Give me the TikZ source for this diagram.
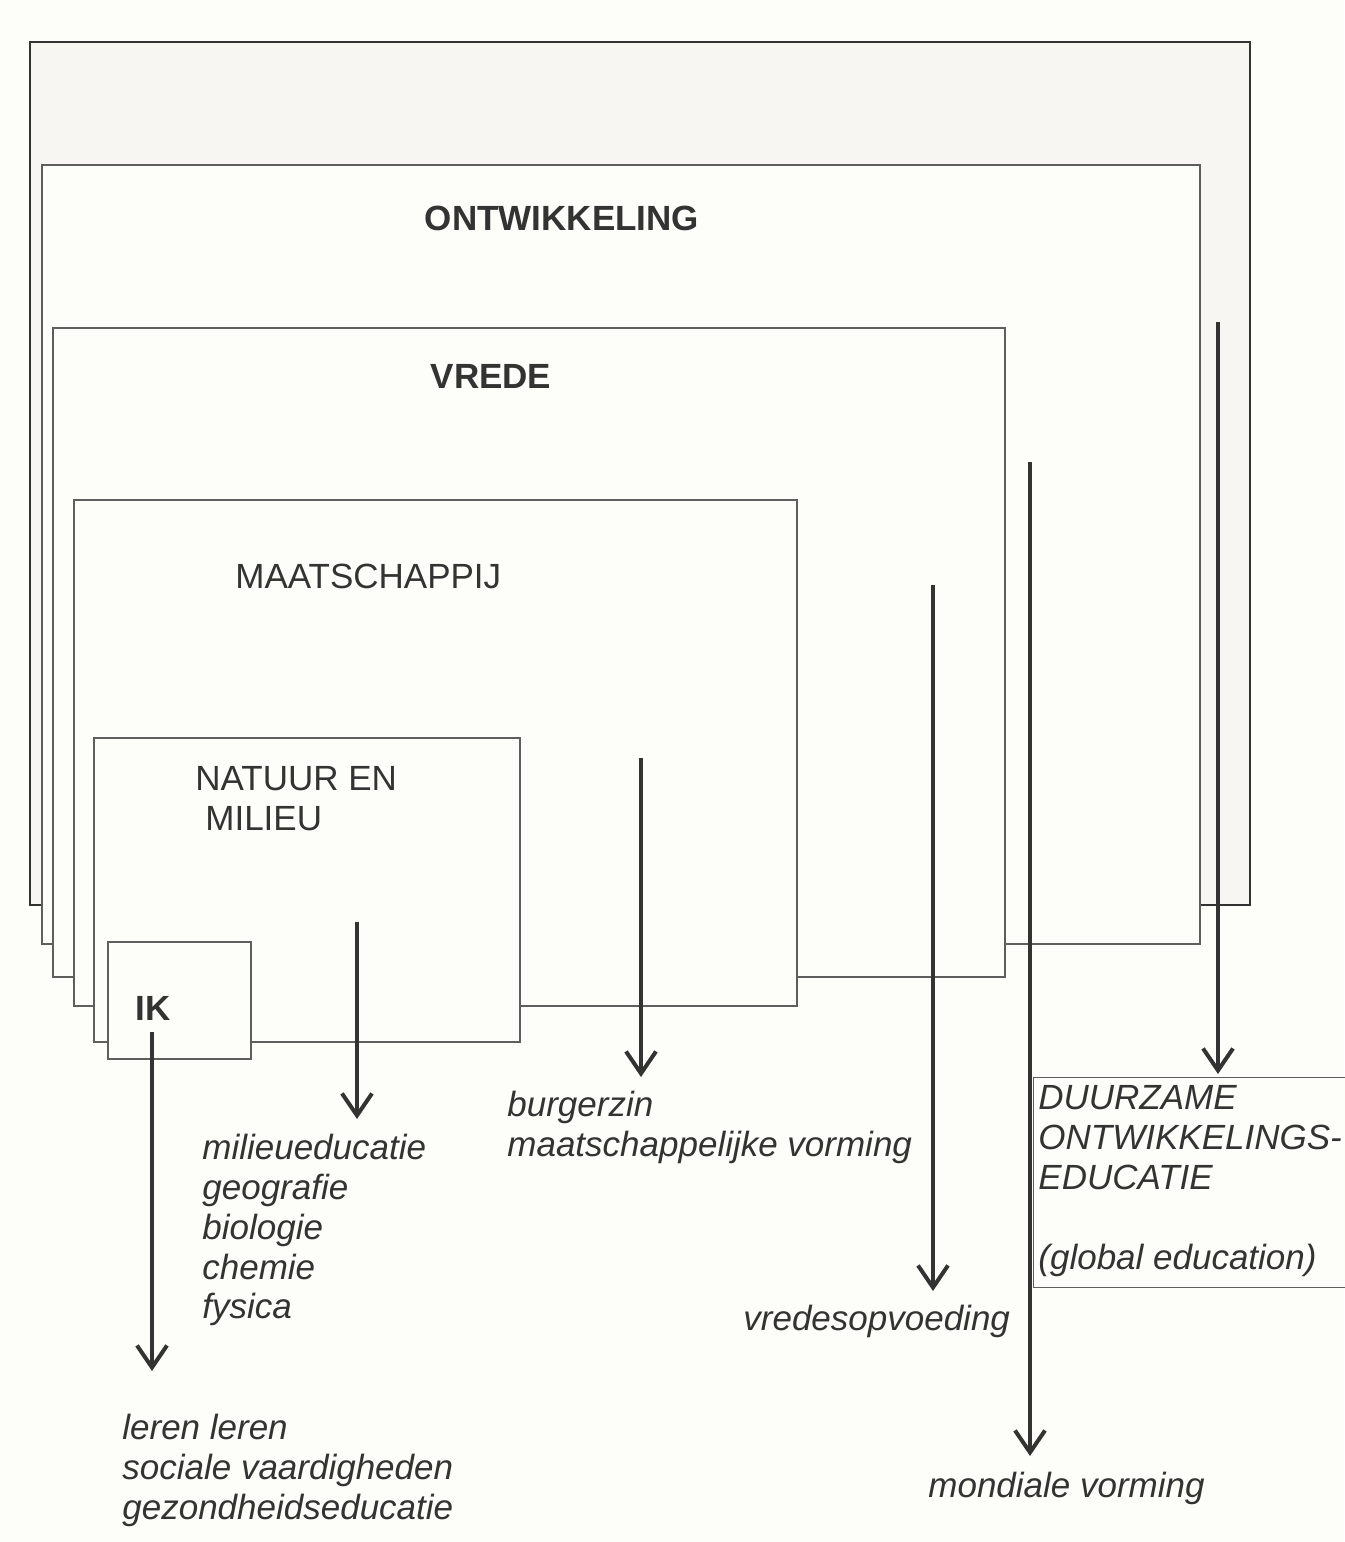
\documentclass[tikz,border=0pt]{standalone}
\usepackage{fontspec}
\setmainfont{Liberation Sans}
\usetikzlibrary{arrows.meta}
\definecolor{ink}{HTML}{333333}
\definecolor{edgec}{HTML}{5E5E5E}
\definecolor{paper}{HTML}{FDFDF9}
\definecolor{oldpaper}{HTML}{F7F6F2}
\begin{document}
\begin{tikzpicture}[x=0.5pt,y=-0.5pt,
  box/.style={draw=edgec, fill=paper, line width=0.6pt},
  lab/.style={anchor=base west, inner sep=0pt, text=ink, font=\fontsize{17.5}{20}\selectfont},
  blab/.style={lab, font=\fontsize{17.5}{20}\selectfont\bfseries},
  ilab/.style={lab, font=\fontsize{17.5}{20}\selectfont\itshape},
  arr/.style={draw=ink, line width=2pt, -{Straight Barb[length=11pt,width=15pt]}}]
\fill[paper] (0,0) rectangle (1344,1542);
\useasboundingbox (0,0) rectangle (1344,1542);
% nested boxes
\draw[box, fill=oldpaper, line width=1pt, draw=ink] (30,42) rectangle (1250,905);
\draw[box, line width=0.9pt] (42,165) rectangle (1200,944);
\draw[box] (53,328) rectangle (1005,977);
\draw[box] (74,500) rectangle (797,1006);
\draw[box] (94,738) rectangle (520,1042);
\draw[box] (108,942) rectangle (251,1059);
% box titles
\node[blab, anchor=base] (ont) at (562,230) {ONTWIKKELING};
\node[blab, anchor=base] (vrede) at (491,388) {VREDE};
\node[lab] (maat) at (235,588) {MAATSCHAPPIJ};
\node[lab] (nat1) at (195,790) {NATUUR EN};
\node[lab] (nat2) at (205,830) {MILIEU};
\node[blab] (ik) at (135,1020) {IK};
% outcome labels
\node[ilab] (mil1) at (202,1159) {milieueducatie};
\node[ilab] (mil2) at (202,1199) {geografie};
\node[ilab] (mil3) at (202,1239) {biologie};
\node[ilab] (mil4) at (202,1279) {chemie};
\node[ilab] (mil5) at (202,1318) {fysica};
\node[ilab] (bur1) at (507,1116) {burgerzin};
\node[ilab] (bur2) at (507,1156) {maatschappelijke vorming};
\node[ilab] (vred) at (743,1330) {vredesopvoeding};
\node[ilab] (mond) at (928,1497) {mondiale vorming};
\node[ilab] (ler1) at (122,1439) {leren leren};
\node[ilab] (ler2) at (122,1479) {sociale vaardigheden};
\node[ilab] (ler3) at (122,1519) {gezondheidseducatie};
% DOE box
\draw[box, line width=0.5pt] (1033,1077) coordinate (dtop) rectangle (1352,1287);
\node[ilab] (doe1) at (1038,1109) {DUURZAME};
\node[ilab] (doe2) at (1038,1149) {ONTWIKKELINGS-};
\node[ilab] (doe3) at (1038,1189) {EDUCATIE};
\node[ilab] (doe4) at (1038,1269) {(global education)};
% arrows
\coordinate (s1) at (1218,322);  \coordinate (e1) at (1218,1074);
\coordinate (s2) at (1030,462);  \coordinate (e2) at (1030,1456);
\coordinate (s3) at (933,585);   \coordinate (e3) at (933,1291);
\coordinate (s4) at (641,758);   \coordinate (e4) at (641,1077);
\coordinate (s5) at (357,922);   \coordinate (e5) at (357,1119);
\coordinate (s6) at (152,1032);  \coordinate (e6) at (152,1371);
\foreach \i in {1,...,6} \draw[arr] (s\i) -- (e\i);
\end{tikzpicture}
\end{document}
